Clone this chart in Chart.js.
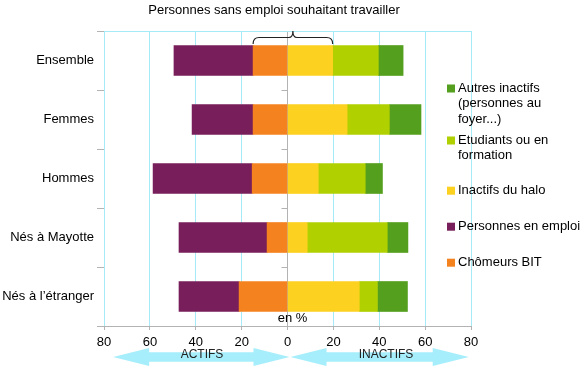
<!DOCTYPE html>
<html>
<head>
<meta charset="utf-8">
<script src="https://cdn.jsdelivr.net/npm/chart.js@4/dist/chart.umd.min.js"></script>
<style>
html, body { margin: 0; padding: 0; background: #fff; }
</style>
</head>
<body>
<canvas id="mayotteChart" width="586" height="370"></canvas>
<script>
// categories + values (%), left side values are drawn negative
const categories = ['Ensemble', 'Femmes', 'Hommes', 'Nés à Mayotte', 'Nés à l’étranger'];
const emploi = [34.5, 26.6, 43.2, 38.4, 26.2];
const chomeurs = [15.0, 15.0, 15.4, 8.9, 21.1];
const halo = [19.7, 26.0, 13.4, 8.6, 31.3];
const etudiants = [19.9, 18.4, 20.5, 34.9, 7.9];
const autres = [10.8, 13.8, 7.5, 9.0, 13.1];
const xTicks = [-80, -60, -40, -20, 0, 20, 40, 60, 80];

const FONT = 'Liberation Sans, Arial, sans-serif';
const CYAN = '#a6eaf7';
const GRAY = '#b3b3b3';

const colors = {
    emploi: '#781e5a',
    chomeurs: '#f4831f',
    halo: '#fdd120',
    etudiants: '#b0d000',
    autres: '#559f1f'
};

const legendItems = [
    { color: colors.autres, lines: ['Autres inactifs', '(personnes au', 'foyer...)'], y: 88.5 },
    { color: colors.etudiants, lines: ['Etudiants ou en', 'formation'], y: 140.5 },
    { color: colors.halo, lines: ['Inactifs du halo'], y: 190.7 },
    { color: colors.emploi, lines: ['Personnes en emploi'], y: 226.7 },
    { color: colors.chomeurs, lines: ['Chômeurs BIT'], y: 262.7 }
];

function arrow(ctx, x1, x2, yc) {
    const head = 36, hh = 9, sh = 4.7;
    ctx.beginPath();
    ctx.moveTo(x1, yc);
    ctx.lineTo(x1 + head, yc - hh);
    ctx.lineTo(x1 + head, yc - sh);
    ctx.lineTo(x2 - head, yc - sh);
    ctx.lineTo(x2 - head, yc - hh);
    ctx.lineTo(x2, yc);
    ctx.lineTo(x2 - head, yc + hh);
    ctx.lineTo(x2 - head, yc + sh);
    ctx.lineTo(x1 + head, yc + sh);
    ctx.lineTo(x1 + head, yc + hh);
    ctx.closePath();
    ctx.fill();
}

const extras = {
    id: 'extras',
    afterDraw(chart) {
        const ctx = chart.ctx;
        const area = chart.chartArea;
        const x = chart.scales.x;
        const x0 = x.getPixelForValue(0);
        ctx.save();

        // top border
        ctx.strokeStyle = CYAN;
        ctx.lineWidth = 1;
        ctx.beginPath();
        ctx.moveTo(area.left, area.top + 0.5);
        ctx.lineTo(area.right, area.top + 0.5);
        ctx.stroke();

        // small ticks on the zero line
        ctx.strokeStyle = GRAY;
        const step = (area.bottom - area.top) / categories.length;
        for (let i = 1; i < categories.length; i++) {
            const yy = Math.round(area.top + step * i) + 0.5;
            ctx.beginPath();
            ctx.moveTo(x0 - 6, yy);
            ctx.lineTo(x0, yy);
            ctx.stroke();
        }

        ctx.fillStyle = '#000';
        ctx.font = '13px ' + FONT;
        ctx.textAlign = 'center';
        ctx.textBaseline = 'middle';
        ctx.fillText('Personnes sans emploi souhaitant travailler', 274, 10);
        ctx.fillText('en %', x0 + 5, 318);

        // brace over the Ensemble bar
        const bx1 = x.getPixelForValue(-chomeurs[0]);
        const bx2 = x.getPixelForValue(halo[0]);
        const bm = (bx1 + bx2) / 2;
        const yTop = 31, yMid = 37.5, yEnd = 44;
        ctx.strokeStyle = '#222';
        ctx.lineWidth = 1.2;
        ctx.beginPath();
        ctx.moveTo(bx1, yEnd);
        ctx.quadraticCurveTo(bx1, yMid, bx1 + 6, yMid);
        ctx.lineTo(bm - 4, yMid);
        ctx.quadraticCurveTo(bm, yMid, bm, yTop);
        ctx.quadraticCurveTo(bm, yMid, bm + 4, yMid);
        ctx.lineTo(bx2 - 6, yMid);
        ctx.quadraticCurveTo(bx2, yMid, bx2, yEnd);
        ctx.stroke();

        // arrows
        ctx.fillStyle = '#a6eefb';
        arrow(ctx, x.getPixelForValue(-76), x0 + 2, 357);
        arrow(ctx, x0 + 3, x.getPixelForValue(79), 357);
        ctx.fillStyle = '#222';
        ctx.font = '12px ' + FONT;
        ctx.fillText('ACTIFS', 202, 355);
        ctx.fillText('INACTIFS', 386, 355);

        // legend
        ctx.font = '13px ' + FONT;
        ctx.textAlign = 'left';
        legendItems.forEach(item => {
            ctx.fillStyle = item.color;
            ctx.fillRect(447, item.y - 4, 8, 8);
            ctx.fillStyle = '#000';
            item.lines.forEach((line, i) => {
                ctx.fillText(line, 458, item.y + i * 15.3);
            });
        });
        ctx.restore();
    }
};

new Chart(document.getElementById('mayotteChart'), {
    type: 'bar',
    data: {
        labels: categories,
        datasets: [
            { label: 'Chômeurs BIT', data: chomeurs.map(v => -v), backgroundColor: colors.chomeurs },
            { label: 'Personnes en emploi', data: emploi.map(v => -v), backgroundColor: colors.emploi },
            { label: 'Inactifs du halo', data: halo, backgroundColor: colors.halo },
            { label: 'Etudiants ou en formation', data: etudiants, backgroundColor: colors.etudiants },
            { label: 'Autres inactifs (personnes au foyer...)', data: autres, backgroundColor: colors.autres }
        ]
    },
    options: {
        indexAxis: 'y',
        responsive: false,
        animation: false,
        barThickness: 30,
        layout: { padding: { top: 31, right: 115, left: 0, bottom: 0 } },
        plugins: {
            legend: { display: false },
            tooltip: { enabled: false }
        },
        scales: {
            x: {
                stacked: true,
                min: -80,
                max: 80,
                afterBuildTicks: s => { s.ticks = xTicks.map(v => ({ value: v })); },
                afterFit: s => { s.height = 44; },
                ticks: {
                    callback: v => Math.abs(v),
                    color: '#000',
                    font: { family: FONT, size: 13 },
                    padding: 5
                },
                grid: {
                    color: c => (c.tick && c.tick.value === 0) ? GRAY : CYAN,
                    tickColor: GRAY,
                    tickLength: 4
                },
                border: { color: GRAY }
            },
            y: {
                stacked: true,
                afterFit: s => { s.width = 104; },
                ticks: {
                    color: '#000',
                    font: { family: FONT, size: 13 },
                    padding: 3
                },
                grid: {
                    drawOnChartArea: false,
                    color: GRAY,
                    tickLength: 7,
                    offset: true
                },
                border: { display: false }
            }
        }
    },
    plugins: [extras]
});
</script>
</body>
</html>
